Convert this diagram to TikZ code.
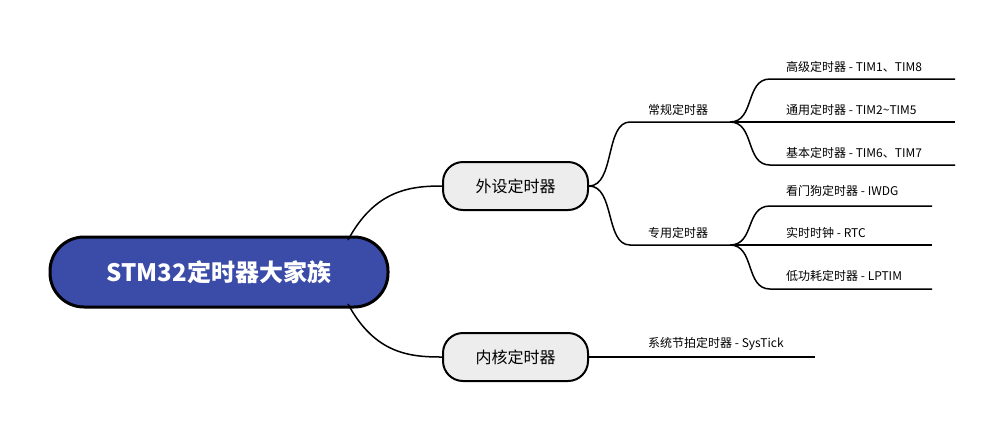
\documentclass[tikz,border=0pt]{standalone}
\usepackage{fontspec}
\newfontfamily\cjk{Noto Sans CJK SC}
\begin{document}
\begin{tikzpicture}[x=1pt,y=-1pt,
  conn/.style={line width=1.5pt,black},
  leaf/.style={anchor=south west,inner sep=0pt,font=\cjk\fontsize{12}{14}\selectfont},
  mid/.style={draw=black,line width=2pt,fill=black!7,rounded corners=20pt,minimum width=145pt,minimum height=48pt,font=\cjk\fontsize{16}{18}\selectfont}]
\useasboundingbox (0,0) rectangle (1008,432);
\node[draw=black,line width=3pt,fill={rgb,255:red,59;green,75;blue,168},rounded corners=34pt,minimum width=338pt,minimum height=70pt,text=white,font=\cjk\bfseries\fontsize{24}{28}\selectfont] (root) at (219,272) {STM32定时器大家族};
\node[mid] (a) at (515.5,186) {外设定时器};
\node[mid] (b) at (515.5,357) {内核定时器};
\draw[conn] (348,240) .. controls (375,190) and (410,186) .. (a.west);
\draw[conn] (348,304) .. controls (375,354) and (410,357) .. (b.west);
% 常规 / 专用
\coordinate (c1) at (630,122); \coordinate (c2) at (730,122);
\coordinate (d1) at (630,245); \coordinate (d2) at (730,245);
\draw[conn] (a.east) .. controls (615,186) and (605,122) .. (c1) -- (c2);
\draw[conn] (a.east) .. controls (615,186) and (605,245) .. (d1) -- (d2);
\node[leaf] (ct) at (648,116) {常规定时器};
\node[leaf] (dt) at (648,239) {专用定时器};
% 常规 children
\coordinate (e1) at (770,79); \coordinate (e1b) at (955,79);
\coordinate (e2b) at (955,122);
\coordinate (e3) at (770,165); \coordinate (e3b) at (955,165);
\draw[conn] (c2) .. controls (755,122) and (745,79) .. (e1) -- (e1b);
\draw[conn] (c2) -- (e2b);
\draw[conn] (c2) .. controls (755,122) and (745,165) .. (e3) -- (e3b);
\node[leaf] (l1) at (786,73) {高级定时器 - TIM1、TIM8};
\node[leaf] (l2) at (786,116) {通用定时器 - TIM2\textasciitilde TIM5};
\node[leaf] (l3) at (786,159) {基本定时器 - TIM6、TIM7};
% 专用 children
\coordinate (f1) at (770,206); \coordinate (f1b) at (932,206);
\coordinate (f2b) at (932,245);
\coordinate (f3) at (770,289); \coordinate (f3b) at (932,289);
\draw[conn] (d2) .. controls (755,245) and (745,206) .. (f1) -- (f1b);
\draw[conn] (d2) -- (f2b);
\draw[conn] (d2) .. controls (755,245) and (745,289) .. (f3) -- (f3b);
\node[leaf] (m1) at (786,197) {看门狗定时器 - IWDG};
\node[leaf] (m2) at (786,239) {实时时钟 - RTC};
\node[leaf] (m3) at (786,282) {低功耗定时器 - LPTIM};
% 内核
\coordinate (g) at (815,357);
\draw[conn] (b.east) -- (g);
\node[leaf] (n1) at (648,350) {系统节拍定时器 - SysTick};
\end{tikzpicture}
\end{document}
